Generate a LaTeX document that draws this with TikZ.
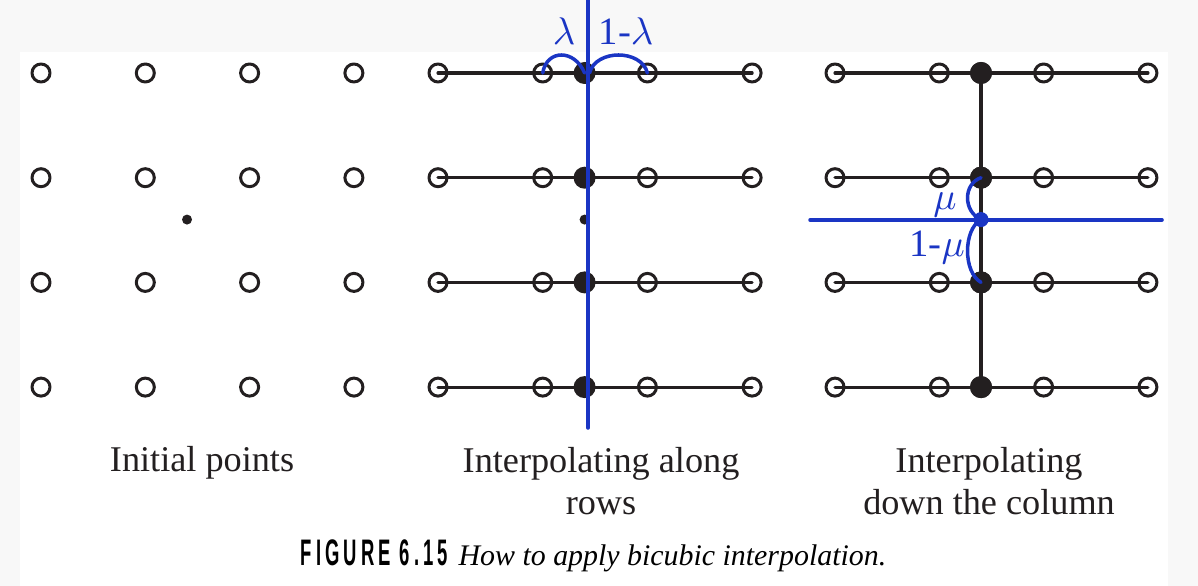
\documentclass[tikz,border=0pt]{standalone}
\usepackage{fontspec}
\setmainfont{Liberation Serif}
\newfontfamily\figfont[FakeStretch=0.5,LetterSpace=11]{Liberation Sans}
\usepackage{tikz}
\usetikzlibrary{calc}
\definecolor{ink}{HTML}{231F20}
\definecolor{pen}{HTML}{1A35C4}
\definecolor{paper}{HTML}{F8F8F8}
\tikzset{
  every picture/.style={line cap=round, line join=round},
  knot/.style={circle, draw=ink, line width=0.85pt, minimum size=0.18cm, inner sep=0pt},
  hit/.style={circle, fill=ink, minimum size=0.22cm, inner sep=0pt},
  tiny/.style={circle, fill=ink, minimum size=0.1cm, inner sep=0pt},
  rowline/.style={draw=ink, line width=0.9pt},
  penline/.style={draw=pen, line width=1pt},
  hand/.style={text=pen, font=\fontsize{11}{13}\selectfont},
  lab/.style={text=ink, font=\fontsize{10.3}{12}\selectfont, align=center}
}

\begin{document}
\begin{tikzpicture}[x=0.01cm, y=-0.01cm]
  \useasboundingbox (0,0) rectangle (1198,586);
  \fill[paper] (0,0) rectangle (1198,586);
  \fill[white] (20,52) rectangle (1168,586);

  % grid points of the three panels
  \foreach \i in {1,...,4}{
    \foreach \j in {1,...,4}{
      \node[knot] (a-\i-\j) at ({41+104.3*(\i-1)}, {73+104.7*(\j-1)}) {};
      \node[knot] (b-\i-\j) at ({438+104.7*(\i-1)}, {73+104.7*(\j-1)}) {};
      \node[knot] (c-\i-\j) at ({835+104.3*(\i-1)}, {73+104.7*(\j-1)}) {};
    }
  }

  % interpolated values on each row
  \foreach \j in {1,...,4}{
    \draw[rowline] (b-1-\j.center) -- (b-4-\j.center);
    \draw[rowline] (c-1-\j.center) -- (c-4-\j.center);
    \node[hit] (b-\j) at ($(b-2-\j)!0.4!(b-3-\j)$) {};
    \node[hit] (c-\j) at ($(c-2-\j)!0.4!(c-3-\j)$) {};
  }
  \draw[rowline] (c-1.center) -- (c-4.center);
  \foreach \j in {1,...,4}{
    \node[hit] at (c-\j) {};
  }

  % the wanted point
  \node[tiny] (a-p) at ($(a-2-2)!0.4!(a-3-3)$) {};
  \node[tiny] (b-p) at ($(b-2)!0.4!(b-3)$) {};

  % pen marks, panel 2
  \coordinate (lam-top) at (588,0);
  \coordinate (lam-bot) at (588,428);
  \draw[penline] (lam-top) -- (lam-bot);
  \draw[penline] (b-2-1.center) .. controls +(4,-24) and +(-10,-24) .. (b-1.center);
  \draw[penline] ($(b-1.center)+(5,0)$) .. controls +(6,-24) and +(-6,-24) .. (b-3-1.center);
  \node[hand] (lam) at (564,31) {$\lambda$};
  \node[hand] (lam-r) at (626,31) {1-$\lambda$};

  % pen marks, panel 3
  \coordinate (mu-l) at (810,220);
  \coordinate (mu-r) at (1162,220);
  \draw[penline] (mu-l) -- (mu-r);
  \node[circle, fill=pen, minimum size=0.15cm, inner sep=0pt] (c-p) at ($(c-2)!0.4!(c-3)$) {};
  \draw[penline] (c-2.center) .. controls +(-18,6) and +(-18,-8) .. (c-p.center);
  \draw[penline] (c-p.center) .. controls +(-18,10) and +(-18,-10) .. (c-3.center);
  \node[hand] (mu) at (945,205) {$\mu$};
  \node[hand] (mu-b) at (937,247) {1-$\mu$};

  % panel titles
  \node[lab, anchor=base] (t-a) at (202,472) {Initial points};
  \node[lab] (t-b) at (601,481) {Interpolating along\\rows};
  \node[lab] (t-c) at (989,481) {Interpolating\\down the column};

  % caption
  \node[anchor=base west, inner sep=0pt] (cap) at (300,565)
    {{\figfont\bfseries\fontsize{10.5}{12}\selectfont FIGURE 6.15}\hspace{3pt}{\fontsize{8.5}{10}\selectfont\itshape How to apply bicubic interpolation.}};
\end{tikzpicture}
\end{document}
